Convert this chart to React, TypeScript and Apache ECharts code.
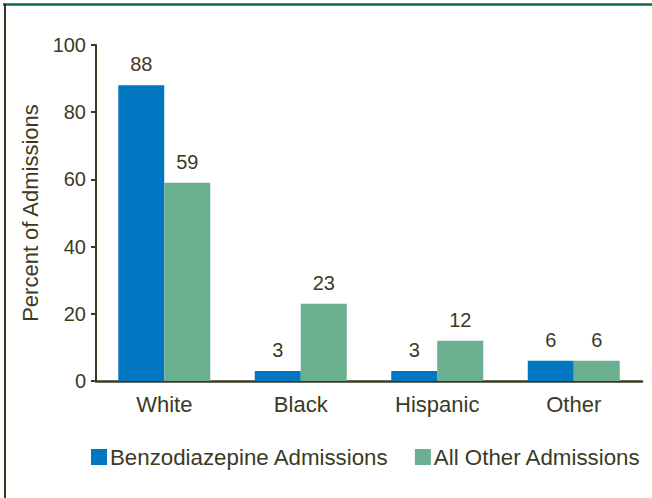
import React, { useEffect, useRef } from "react";
import * as echarts from "echarts";

const categories = ["White", "Black", "Hispanic", "Other"];
const benzoValues = [88, 3, 3, 6];
const otherValues = [59, 23, 12, 6];
const yTicks = [0, 20, 40, 60, 80, 100];

const TEXT = "#3c3a24";
const BLUE = "#0077c0";
const GREEN = "#6aaf8f";
const FONT = "Liberation Sans, Arial, sans-serif";

export default function App() {
  const ref = useRef<HTMLDivElement>(null);

  useEffect(() => {
    if (!ref.current) return;
    const chart = echarts.init(ref.current, null, { renderer: "svg" });
    const labelStyle = {
      show: true,
      position: "top" as const,
      distance: 11,
      color: TEXT,
      fontSize: 20,
      fontFamily: FONT,
    };
    chart.setOption({
      animation: false,
      backgroundColor: "#ffffff",
      textStyle: { fontFamily: FONT, color: TEXT },
      grid: { left: 96, right: 10, top: 45, bottom: 117, containLabel: false },
      legend: {
        left: 91,
        top: 446,
        padding: 0,
        icon: "rect",
        itemWidth: 16,
        itemHeight: 16,
        itemGap: 26,
        textStyle: { fontSize: 22.3, color: TEXT, fontFamily: FONT, padding: [0, 0, 0, -2] },
        data: ["Benzodiazepine Admissions", "All Other Admissions"],
      },
      xAxis: {
        type: "category",
        data: categories,
        axisLine: { show: true, lineStyle: { color: TEXT, width: 2.5 } },
        axisTick: { show: false },
        axisLabel: { color: TEXT, fontSize: 22, fontFamily: FONT, margin: 12 },
      },
      yAxis: {
        type: "value",
        min: 0,
        max: 100,
        interval: 20,
        name: "Percent of Admissions",
        nameLocation: "middle",
        nameGap: 52,
        nameRotate: 90,
        nameTextStyle: { color: TEXT, fontSize: 22, fontFamily: FONT },
        axisLine: { show: true, lineStyle: { color: TEXT, width: 2 } },
        axisTick: { show: true, length: 5, lineStyle: { color: TEXT, width: 2 } },
        axisLabel: {
          color: TEXT,
          fontSize: 20,
          fontFamily: FONT,
          margin: 10,
          formatter: (v: number) => (yTicks.includes(v) ? String(v) : ""),
        },
        splitLine: { show: false },
      },
      series: [
        {
          name: "Benzodiazepine Admissions",
          type: "bar",
          data: benzoValues,
          barWidth: 46,
          barGap: "0%",
          itemStyle: { color: BLUE },
          label: labelStyle,
        },
        {
          name: "All Other Admissions",
          type: "bar",
          data: otherValues,
          barWidth: 46,
          barGap: "0%",
          itemStyle: { color: GREEN },
          label: labelStyle,
        },
      ],
      graphic: [
        {
          type: "line",
          shape: { x1: 3, y1: 4.5, x2: 652, y2: 4.5 },
          style: { stroke: "#0a6b45", lineWidth: 2.5 },
        },
        {
          type: "line",
          shape: { x1: 5, y1: 3.5, x2: 5, y2: 498 },
          style: { stroke: "#3a3522", lineWidth: 2 },
        },
      ],
    });
    return () => chart.dispose();
  }, []);

  return (
    <div
      ref={ref}
      style={{ position: "fixed", left: 0, top: 0, width: 652, height: 498 }}
    />
  );
}
